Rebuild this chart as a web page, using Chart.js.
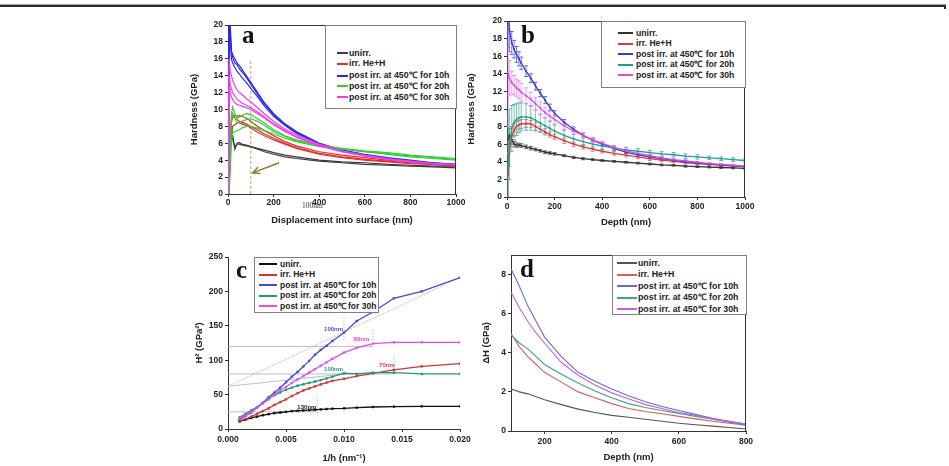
<!DOCTYPE html>
<html><head><meta charset="utf-8">
<script src="https://cdn.jsdelivr.net/npm/chart.js@4.4.0/dist/chart.umd.min.js"></script>
<style>
html,body{margin:0;padding:0;background:#fff;}
#root{position:relative;width:949px;height:466px;overflow:hidden;background:#fff;font-family:"Liberation Sans",Arial,sans-serif;}
canvas{position:absolute;}
.bar{position:absolute;}
.let{position:absolute;font-family:"Liberation Serif","Times New Roman",serif;font-weight:bold;font-size:25px;line-height:25px;color:#111;}
.lg{position:absolute;border:1px solid #808080;background:#fff;box-sizing:border-box;}
.lr{position:absolute;white-space:nowrap;font-weight:bold;color:#222;}
.note{position:absolute;font-family:"Liberation Serif",serif;font-size:7.5px;line-height:8px;color:#333;white-space:nowrap;}
</style></head>
<body><div id="root"></div>
<script>
// ---------- shared ----------
const seriesNames = ['unirr.', 'irr. He+H', 'post irr. at 450\u2103 for 10h', 'post irr. at 450\u2103 for 20h', 'post irr. at 450\u2103 for 30h'];

// ---------- panel a : individual indentation curves ----------
const depthA = [2,5,10,15,20,30,40,50,60,80,100,130,160,200,250,300,400,500,600,700,800,900,1000];
const aUnirr1 = [0,0.5,6.0,7.8,7.0,5.3,6.0,6.1,5.9,5.8,5.6,5.3,5.0,4.7,4.4,4.2,3.9,3.7,3.5,3.4,3.3,3.2,3.1];
const aUnirr2 = [0,1.0,5.5,7.2,6.5,5.6,5.9,5.9,5.8,5.7,5.6,5.4,5.2,4.9,4.6,4.4,4.0,3.8,3.7,3.5,3.4,3.3,3.3];
const aHe1 = [0,2,6,8.5,9.0,9.3,9.2,9.3,9.2,9.0,8.6,8.0,7.5,6.9,6.2,5.7,5.0,4.6,4.3,4.0,3.8,3.6,3.5];
const aHe2 = [0,3,7,8.8,9.5,9.0,8.8,8.6,8.5,8.3,8.0,7.6,7.1,6.6,6.0,5.5,4.8,4.4,4.1,3.9,3.7,3.5,3.4];
const aHe3 = [0,2,5,7,8,8.2,8.4,8.5,8.3,8.1,7.8,7.3,6.9,6.4,5.9,5.4,4.7,4.3,4.0,3.8,3.6,3.5,3.3];
const aP10a = [0,22,20,17,16.5,16.0,15.5,15.2,14.8,14.0,13.2,12.0,10.8,9.5,8.3,7.4,6.0,5.2,4.6,4.2,3.9,3.7,3.5];
const aP10b = [0,22,18,16,15.5,15.0,14.5,14.2,13.8,13.2,12.5,11.5,10.4,9.2,8.1,7.2,5.9,5.1,4.6,4.2,3.9,3.6,3.4];
const aP10c = [0,21,19,16.8,16.2,15.5,15.3,14.8,14.5,13.8,13.0,11.8,10.6,9.4,8.2,7.3,6.0,5.2,4.7,4.3,4.0,3.7,3.5];
const aP20a = [0,1,6,9.5,10.3,9.5,9.0,9.1,9.3,9.5,9.4,8.9,8.4,7.6,6.9,6.4,5.8,5.4,5.1,4.9,4.6,4.4,4.2];
const aP20b = [0,0,3,6,7.2,7.4,7.5,7.6,7.8,8.0,8.0,7.8,7.5,7.1,6.6,6.2,5.6,5.3,5.0,4.8,4.5,4.3,4.1];
const aP20c = [0,1,5,8.5,9.5,9.0,8.5,8.4,8.6,8.8,8.9,8.6,8.1,7.4,6.8,6.3,5.7,5.3,5.0,4.7,4.4,4.2,4.0];
const aP30a = [0,16,14.5,14,13.5,12.8,12.3,12.0,11.8,11.3,10.9,10.2,9.5,8.6,7.7,7.0,5.9,5.1,4.6,4.2,3.9,3.6,3.5];
const aP30b = [0,14,13,12.5,12.0,11.6,11.2,11.0,10.8,10.5,10.2,9.7,9.1,8.3,7.5,6.8,5.8,5.0,4.5,4.1,3.8,3.6,3.4];
const aP30c = [0,13,12,11.5,11.2,10.8,10.6,10.5,10.4,10.2,10.0,9.5,9.0,8.2,7.4,6.7,5.7,5.0,4.5,4.1,3.8,3.6,3.4];
const aMarkX = [100,100];
const aMarkY = [0,15.8];
const aArrowFrom = [224,3.7];
const aArrowTo = [108,2.5];
const xTicksA = {min:0,max:1000,step:200};
const yTicksA = {min:0,max:20,step:2};

// ---------- panel b : averaged curves with error bars ----------
const depthB = [5,10,20,30,40,50,60,80,100,120,140,160,180,200,240,280,320,360,400,450,500,550,600,650,700,750,800,850,900,950,1000];
const bUnirr = [6.5,7.0,6.5,6.0,5.9,5.9,5.85,5.7,5.55,5.4,5.25,5.1,5.0,4.9,4.7,4.5,4.35,4.25,4.15,4.05,3.95,3.85,3.75,3.65,3.6,3.5,3.45,3.4,3.35,3.3,3.25];
const bUnirrErr = [1.5,0.8,0.5,0.3,0.25,0.2,0.2,0.2,0.2,0.15,0.15,0.15,0.15,0.15,0.12,0.12,0.12,0.1,0.1,0.1,0.1,0.1,0.1,0.1,0.1,0.1,0.1,0.1,0.1,0.1,0.1];
const bHe = [2.5,5.0,7.0,7.6,8.0,8.2,8.3,8.35,8.3,8.0,7.7,7.4,7.1,6.85,6.4,6.0,5.7,5.45,5.2,4.95,4.75,4.55,4.35,4.2,4.05,3.9,3.8,3.7,3.6,3.5,3.45];
const bHeErr = [2.5,1.5,1.0,0.7,0.6,0.5,0.5,0.45,0.4,0.4,0.35,0.35,0.3,0.3,0.3,0.25,0.25,0.25,0.2,0.2,0.2,0.2,0.2,0.15,0.15,0.15,0.15,0.15,0.15,0.15,0.15];
const bP10 = [21,19,17.5,16.8,16.2,15.7,15.2,14.3,13.5,12.6,11.8,11.0,10.2,9.5,8.5,7.7,7.0,6.45,6.0,5.5,5.1,4.8,4.55,4.35,4.15,4.0,3.85,3.75,3.65,3.55,3.45];
const bP10Err = [4,2.5,1.3,1.0,0.9,0.8,0.7,0.6,0.5,0.45,0.4,0.4,0.35,0.3,0.3,0.25,0.25,0.2,0.2,0.2,0.15,0.15,0.15,0.15,0.1,0.1,0.1,0.1,0.1,0.1,0.1];
const bP20 = [3,6,7.8,8.5,8.8,9.0,9.1,9.1,9.0,8.7,8.4,8.1,7.8,7.5,7.0,6.6,6.3,6.0,5.8,5.55,5.35,5.2,5.05,4.9,4.8,4.65,4.55,4.45,4.35,4.25,4.15];
const bP20Err = [6,4,2.6,2.0,1.8,1.7,1.6,1.5,1.4,1.2,1.0,0.9,0.8,0.7,0.6,0.5,0.45,0.4,0.35,0.3,0.3,0.3,0.25,0.25,0.25,0.25,0.25,0.2,0.2,0.2,0.2];
const bP30 = [14,13.5,13.0,12.7,12.4,12.2,11.9,11.5,11.1,10.6,10.1,9.6,9.2,8.8,8.1,7.5,7.0,6.5,6.1,5.65,5.25,4.95,4.7,4.45,4.25,4.1,3.95,3.8,3.7,3.6,3.5];
const bP30Err = [6,2.0,1.3,1.1,1.0,1.0,1.0,0.9,0.8,0.7,0.7,0.6,0.55,0.5,0.4,0.35,0.3,0.3,0.25,0.2,0.2,0.2,0.15,0.15,0.15,0.15,0.1,0.1,0.1,0.1,0.1];

// ---------- panel c : H^2 vs 1/h ----------
const invDepthC = [0.001,0.0015,0.002,0.0025,0.003,0.0035,0.004,0.0045,0.005,0.0055,0.006,0.0065,0.007,0.0075,0.008,0.0085,0.009,0.01,0.0111,0.0125,0.0143,0.0167,0.02];
const cUnirr = [11,13.5,16,18,20,21.5,23,24,25,26,26.5,27,27.5,28,28.5,29,29.5,30,31,32,32.5,33,33];
const cHe = [12,14.5,18,22,26,30,35,39,43,48,52,56,59,62,65,67.5,70,73,77,81,86,91,95];
const cP10 = [14,19,24,31,38,46,53,60,68,76,83,91,99,108,115,121,128,140,157,170,190,200,220];
const cP20 = [17,22,27,32,38,44,49,53,57,60,63,65,67,69,71,73.5,76,81,80,82,82,80,80];
const cP30 = [15,20,25,31,37,43,50,56,61,67,72,77,82,87,92,97,102,111,118,124,126,126,126];
const cGuideLines = [
  [[0,62],[0.02,220]],
  [[0,62],[0.01,80]],
  [[0,120],[0.0125,120]],
  [[0,80],[0.0143,80]],
  [[0,25],[0.0077,25]]
];
const cMarkLines = [
  [[0.01,129],[0.01,165]],
  [[0.0125,129],[0.0125,146]],
  [[0.0143,88],[0.0143,110]],
  [[0.0077,18],[0.0077,49]]
];
const cNotes = [
  ['100nm',0.0091,145,'#4b4bc8'],
  ['80nm',0.0115,130,'#e040e0'],
  ['100nm',0.0091,86.5,'#259a7c'],
  ['70nm',0.0137,92,'#d04040'],
  ['130nm',0.0068,32,'#222']
];

// ---------- panel d : delta H vs depth ----------
const depthD = [100,125,150,175,200,250,300,350,400,450,500,550,600,650,700,750,800];
const dUnirr = [2.15,2.0,1.9,1.75,1.6,1.35,1.12,0.95,0.8,0.7,0.6,0.5,0.4,0.32,0.25,0.18,0.1];
const dHe = [5.0,4.3,3.8,3.4,3.0,2.5,2.0,1.7,1.4,1.15,1.0,0.88,0.75,0.62,0.5,0.4,0.3];
const dP10 = [8.3,7.4,6.4,5.6,4.8,3.8,3.0,2.55,2.15,1.8,1.5,1.25,1.05,0.85,0.65,0.5,0.35];
const dP20 = [4.9,4.5,4.2,3.8,3.4,2.9,2.45,2.05,1.7,1.4,1.2,1.05,0.9,0.75,0.6,0.45,0.3];
const dP30 = [7.1,6.3,5.6,5.0,4.5,3.5,2.85,2.35,1.95,1.65,1.35,1.15,0.95,0.8,0.62,0.48,0.35];

// ---------- styles ----------
const colA = ['#3a3a3a','#e52b2b','#2a2ae6','#2ed12e','#f03cf0'];
const colB = ['#333333','#d83a3a','#3b3bd0','#1f9e8c','#e048e0'];
const colBerr = ['#6a6a6a','#e77a7a','#6060e0','#50b8a8','#f08af0'];
const colC = ['#111111','#d03535','#4848d0','#1f9a78','#e050e8'];
const colD = ['#555555','#d06060','#6a6ad0','#3aa585','#c860d8'];

Chart.defaults.font.family = '"Liberation Sans", Arial, sans-serif';
const root = document.getElementById('root');
const TFS = 9.5, LH = TFS * 1.2;

function pts(xs, ys){ return xs.map((x,i)=>({x:x, y:ys[i]})); }
function segPts(seg){ return seg.map(p=>({x:p[0], y:p[1]})); }
function errPts(xs, ys, es){
  const out = [];
  xs.forEach((x,i)=>{ out.push({x:x, y:ys[i]-es[i]}, {x:x, y:ys[i]+es[i]}, {x:x, y:null}); });
  return out;
}
function lineDS(data, color, order, extra){
  return Object.assign({data:data, borderColor:color, backgroundColor:color, borderWidth:1,
    pointRadius:0, fill:false, tension:0, order:order}, extra || {});
}
function geom(p, ytx, xty){
  const l = Math.round(ytx - LH/2), t = p.t - 8, r = p.r + 14, b = Math.round(xty + LH/2);
  return {l:l, t:t, w:r-l, h:b-t, yw:p.l-l, xh:b-p.b};
}
function axis(pos, rng, title, size, tpad, cb){
  return {
    type:'linear', position:pos, min:rng.min, max:rng.max,
    ticks:{stepSize:rng.step, color:'#222', font:{size:8.5, weight:'bold'}, padding:tpad,
      autoSkip:false, maxRotation:0, includeBounds:false, callback: cb || (v=>v)},
    grid:{display:true, drawOnChartArea:false, drawTicks:true, tickLength:3, color:'#333', lineWidth:1},
    border:{display:true, color:'#333', width:1},
    title:{display:true, text:title, color:'#222', font:{size:TFS, weight:'bold'}, padding:0},
    afterFit: pos === 'left' ? (s=>{ s.width = size; }) : (s=>{ s.height = size; })
  };
}
const framePlugin = { id:'frame', afterDraw(chart){
  const a = chart.chartArea, ctx = chart.ctx;
  ctx.save(); ctx.strokeStyle = '#333'; ctx.lineWidth = 1;
  ctx.beginPath(); ctx.moveTo(a.left, a.top + 0.5); ctx.lineTo(a.right - 0.5, a.top + 0.5);
  ctx.lineTo(a.right - 0.5, a.bottom); ctx.stroke(); ctx.restore();
}};
function makePanel(plot, ytx, xty, xr, yr, xTitle, yTitle, tpx, tpy, datasets, plugins, xcb, ycb){
  const g = geom(plot, ytx, xty);
  const c = document.createElement('canvas');
  c.width = g.w; c.height = g.h;
  c.style.left = g.l + 'px'; c.style.top = g.t + 'px';
  c.style.width = g.w + 'px'; c.style.height = g.h + 'px';
  root.appendChild(c);
  return new Chart(c.getContext('2d'), {
    type:'line',
    data:{datasets:datasets},
    options:{
      responsive:false, animation:false, devicePixelRatio:1,
      layout:{padding:{top:8, right:14, left:0, bottom:0}},
      plugins:{legend:{display:false}, tooltip:{enabled:false}},
      scales:{
        x: axis('bottom', xr, xTitle, g.xh, tpx, xcb),
        y: axis('left', yr, yTitle, g.yw, tpy, ycb)
      }
    },
    plugins: plugins
  });
}

// ---------- panel a ----------
const arrowPlugin = { id:'arrowA', afterDatasetsDraw(chart){
  const xs = chart.scales.x, ys = chart.scales.y, ctx = chart.ctx;
  const x1 = xs.getPixelForValue(aArrowFrom[0]), y1 = ys.getPixelForValue(aArrowFrom[1]);
  const x2 = xs.getPixelForValue(aArrowTo[0]), y2 = ys.getPixelForValue(aArrowTo[1]);
  const ang = Math.atan2(y2 - y1, x2 - x1);
  ctx.save(); ctx.strokeStyle = '#8a7a34'; ctx.lineWidth = 1.4;
  ctx.beginPath(); ctx.moveTo(x1, y1); ctx.lineTo(x2, y2);
  ctx.moveTo(x2 - 8*Math.cos(ang - 0.45), y2 - 8*Math.sin(ang - 0.45)); ctx.lineTo(x2, y2);
  ctx.lineTo(x2 - 8*Math.cos(ang + 0.45), y2 - 8*Math.sin(ang + 0.45));
  ctx.stroke(); ctx.restore();
}};
const aSets = [
  [aUnirr1, aUnirr2], [aHe1, aHe2, aHe3], [aP10a, aP10b, aP10c], [aP20a, aP20b, aP20c], [aP30a, aP30b, aP30c]
];
const dsA = [];
aSets.forEach((set, si)=>{ set.forEach(ys=>{ dsA.push(lineDS(pts(depthA, ys), colA[si], 4 - si, {borderWidth:1.2})); }); });
dsA.push(lineDS(pts(aMarkX, aMarkY), '#b8a75e', 9, {borderDash:[3,2]}));
makePanel({l:228,t:25,r:456,b:194}, 195, 220, xTicksA, yTicksA,
  'Displacement into surface (nm)', 'Hardness (GPa)', 1, 2, dsA, [framePlugin, arrowPlugin]);

// ---------- panel b ----------
const bMeans = [bUnirr, bHe, bP10, bP20, bP30];
const bErrs = [bUnirrErr, bHeErr, bP10Err, bP20Err, bP30Err];
const dsB = [];
bMeans.forEach((m, si)=>{
  dsB.push(lineDS(pts(depthB, m), colB[si], 4 - si, {borderWidth:1.3, pointRadius:1, pointBorderWidth:0, pointBackgroundColor:colB[si]}));
  dsB.push(lineDS(errPts(depthB, m, bErrs[si]), colBerr[si], 14 - si,
    {spanGaps:false, borderWidth:0.8, pointStyle:'line', pointRadius:2, pointBorderColor:colBerr[si], pointBorderWidth:1}));
});
makePanel({l:507,t:21,r:745,b:197}, 472, 222, xTicksA, yTicksA,
  'Depth (nm)', 'Hardness (GPa)', 2, 2, dsB, [framePlugin]);

// ---------- panel c ----------
const notesPlugin = { id:'notesC', afterDatasetsDraw(chart){
  const xs = chart.scales.x, ys = chart.scales.y, ctx = chart.ctx;
  ctx.save(); ctx.font = 'bold 6px "Liberation Sans", Arial, sans-serif';
  ctx.textAlign = 'center'; ctx.textBaseline = 'middle';
  cNotes.forEach(n=>{ ctx.fillStyle = n[3]; ctx.fillText(n[0], xs.getPixelForValue(n[1]), ys.getPixelForValue(n[2])); });
  ctx.restore();
}};
const cSeries = [cUnirr, cHe, cP10, cP20, cP30];
const dsC = [];
cGuideLines.forEach((s, i)=>{ dsC.push(lineDS(segPts(s), '#b0b0b0', 20, {borderWidth:0.8, borderDash: i === 0 ? [2,1] : []})); });
cMarkLines.forEach(s=>{ dsC.push(lineDS(segPts(s), '#a8a8a8', 20, {borderWidth:0.8, borderDash:[1.5,1.5]})); });
cSeries.forEach((ys, si)=>{
  dsC.push(lineDS(pts(invDepthC, ys), colC[si], 4 - si,
    {borderWidth:1.3, pointRadius:1.3, pointStyle:'rect', pointBorderWidth:0.5, pointBackgroundColor:colC[si], pointBorderColor:colC[si]}));
});
makePanel({l:228,t:257,r:460,b:429}, 200, 458, {min:0,max:0.02,step:0.005}, {min:0,max:250,step:50},
  '1/h (nm\u207B\u00B9)', 'H\u00B2 (GPa\u00B2)', 3, 2, dsC, [notesPlugin], v=>Number(v).toFixed(3));

// ---------- panel d ----------
const dSeries = [dUnirr, dHe, dP10, dP20, dP30];
const dsD = dSeries.map((ys, si)=>lineDS(pts(depthD, ys), colD[si], 4 - si, {borderWidth:1.1}));
makePanel({l:511,t:255,r:746,b:431}, 487, 457, {min:100,max:800,step:200}, {min:0,max:9,step:2},
  'Depth (nm)', '\u0394H (GPa)', 3, 2, dsD, [framePlugin]);

// ---------- overlays: legends, panel letters, frame ----------
function bar(l, t, w, h, c){ const e = document.createElement('div'); e.className = 'bar'; e.style.left = l + 'px'; e.style.top = t + 'px'; e.style.width = w + 'px'; e.style.height = h + 'px'; e.style.background = c; root.appendChild(e); return e; }
function legend(box, rows, s0, s1, tx, fs, colors){
  const d = document.createElement('div'); d.className = 'lg';
  d.style.left = box[0] + 'px'; d.style.top = box[1] + 'px';
  d.style.width = box[2] + 'px'; d.style.height = box[3] + 'px';
  root.appendChild(d);
  seriesNames.forEach((name, i)=>{
    const cy = rows[i];
    const s = bar(s0, Math.round(cy) - 1, s1 - s0, 1.5, colors[i]);
    s.style.zIndex = 2;
    const t = document.createElement('div'); t.className = 'lr';
    t.style.left = tx + 'px'; t.style.top = (cy - fs*0.62) + 'px';
    t.style.fontSize = fs + 'px'; t.style.lineHeight = (fs*1.2) + 'px';
    t.textContent = name; root.appendChild(t);
  });
}
legend([325,25,132,84], [53,63.5,75.5,86,97], 337, 348, 349, 8.8, colA);
legend([601,21,145,67], [33,43.5,54,64.5,75], 618, 633, 636, 8.6, colB);
legend([254,257,125,56], [264,274.5,285,295.5,306], 259, 277, 280, 8.5, colC);
legend([612,255,135,60], [263,274.5,286,297.5,309], 617, 637, 638, 8.8, colD);

function addText(cls, txt, l, t){ const e = document.createElement('div'); e.className = cls; e.textContent = txt; e.style.left = l + 'px'; e.style.top = t + 'px'; root.appendChild(e); }
addText('let', 'a', 242, 22);
addText('let', 'b', 521, 22);
addText('let', 'c', 236, 257);
addText('let', 'd', 520, 256);
addText('note', '100nm', 302, 202);

bar(0, 4, 946, 1, '#a0a0a0');
bar(0, 5, 946, 2, '#2a2a2a');
bar(944, 5, 2, 4, '#2a2a2a');
</script>
</body></html>
